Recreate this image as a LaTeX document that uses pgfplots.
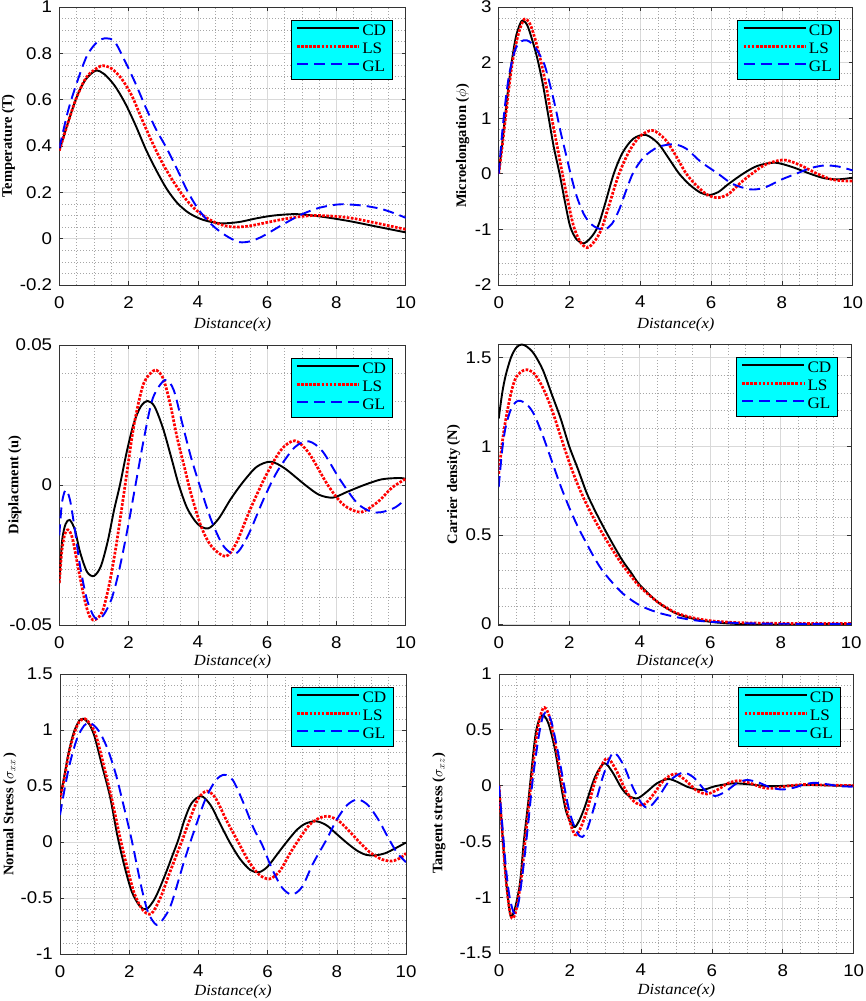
\documentclass[border=0pt]{standalone}
\usepackage{fontspec}
\setmainfont{Liberation Serif}
\newfontfamily\arialw[FakeStretch=1.1]{Liberation Sans}
\newfontfamily\timesw[FakeStretch=1.07]{Liberation Serif}
\usepackage{pgfplots}
\pgfplotsset{compat=1.18}
\definecolor{mcyan}{RGB}{0,255,255}
\newcommand{\tickfont}{\arialw\fontsize{17}{18}\selectfont}
\newcommand{\legfont}{\timesw\fontsize{16}{17}\selectfont}
\newcommand{\xlabfont}{\timesw\itshape\fontsize{15.5}{17}\selectfont}
\newcommand{\ylabfont}{\bfseries\fontsize{14.5}{16}\selectfont}
\pgfplotsset{
  panel/.style={
    scale only axis,
    xmin=0, xmax=10,
    xtick={0,2,4,6,8,10},
    xticklabels={0,2,4,6,8,10},
    scaled y ticks=false,
    minor x tick num=3,
    grid=both,
    major grid style={gray!30, line width=0.6pt},
    minor grid style={gray!70, line width=0.5pt, dash pattern=on 0.8pt off 2.2pt},
    axis line style={black!80, line width=0.7pt},
    every tick/.style={black!80, line width=0.6pt},
    major tick length=4pt,
    minor tick length=0pt,
    tick align=inside,
    every tick label/.append style={font=\tickfont},
    xticklabel style={inner sep=0pt, anchor=north, yshift=-11pt},
    yticklabel style={inner sep=0pt, anchor=east, xshift=-7pt},
    xlabel={Distance(x)},
    xlabel style={font=\xlabfont, anchor=base, inner sep=0pt},
    ylabel style={font=\ylabfont, anchor=center, inner sep=0pt},
    legend style={at={(0.963,0.953)}, anchor=north east, draw=black, fill=mcyan,
      line width=0.7pt, font=\legfont, inner xsep=4.5pt, inner ysep=2.5pt, row sep=0pt,
      nodes={inner sep=2pt, text height=10.5pt, text depth=3.5pt}, cells={anchor=west}},
    legend image code/.code={\draw[##1] (0pt,3.6pt) -- (62pt,3.6pt);},
  },
  cd/.style={black, line width=1.9pt, smooth},
  ls/.style={red, line width=2.7pt, dash pattern=on 2.6pt off 1.5pt, smooth},
  gl/.style={blue, line width=1.9pt, dash pattern=on 11pt off 6pt, smooth},
}
\begin{document}
\begin{tikzpicture}
\path[use as bounding box] (0pt,0pt) rectangle (865pt,1001pt);

% Panel 1: Temperature
\begin{axis}[panel, at={(59.3pt,716pt)}, anchor=south west, width=346.4pt, height=278pt,
  ymin=-0.2, ymax=1, ytick={-0.2,0,0.2,0.4,0.6,0.8,1}, yticklabels={-0.2,0,0.2,0.4,0.6,0.8,1},
  minor y tick num=3,
  ylabel={Temperature (T)}, ylabel style={at={(axis description cs:-0.147,0.5)}},
  xlabel style={at={(axis description cs:0.5,-0.155)}}]
\addplot[cd] coordinates {(0,0.38) (0.25,0.50) (0.5,0.61) (0.75,0.685) (1.05,0.725) (1.3,0.71) (1.6,0.66) (1.9,0.585) (2.2,0.49) (2.5,0.385) (2.8,0.295) (3.1,0.215) (3.4,0.155) (3.7,0.115) (4.0,0.09) (4.3,0.075) (4.7,0.066) (5.2,0.072) (5.7,0.088) (6.2,0.1) (6.8,0.106) (7.3,0.1) (7.8,0.09) (8.4,0.075) (9.0,0.057) (9.5,0.042) (10,0.027)};
\addplot[ls] coordinates {(0,0.38) (0.25,0.50) (0.5,0.61) (0.8,0.70) (1.2,0.745) (1.5,0.735) (1.8,0.69) (2.1,0.615) (2.4,0.51) (2.7,0.41) (3.0,0.32) (3.3,0.245) (3.6,0.18) (3.9,0.13) (4.2,0.095) (4.5,0.07) (4.8,0.055) (5.1,0.05) (5.5,0.055) (6.0,0.07) (6.5,0.085) (7.0,0.096) (7.4,0.1) (8.0,0.096) (8.5,0.087) (9.0,0.072) (9.5,0.056) (10,0.04)};
\addplot[gl] coordinates {(0,0.39) (0.25,0.55) (0.5,0.67) (0.8,0.79) (1.1,0.85) (1.35,0.865) (1.6,0.85) (1.9,0.765) (2.2,0.67) (2.5,0.565) (2.8,0.47) (3.1,0.39) (3.4,0.30) (3.7,0.205) (4.0,0.13) (4.3,0.075) (4.6,0.035) (4.9,0.005) (5.2,-0.015) (5.5,-0.012) (5.8,0.005) (6.1,0.03) (6.5,0.065) (7.0,0.105) (7.5,0.133) (8.0,0.147) (8.3,0.148) (8.8,0.142) (9.3,0.128) (9.7,0.108) (10,0.09)};
\legend{CD,LS,GL}
\end{axis}

% Panel 2: Microelongation
\begin{axis}[panel, at={(498.7pt,716pt)}, anchor=south west, width=354pt, height=278pt,
  ymin=-2, ymax=3, ytick={-2,-1,0,1,2,3}, yticklabels={-2,-1,0,1,2,3},
  minor y tick num=4,
  ylabel={Microelongation ($\phi$)}, ylabel style={at={(axis description cs:-0.102,0.5)}},
  xlabel style={at={(axis description cs:0.5,-0.155)}}]
\addplot[cd] coordinates {(0,0) (0.1,0.55) (0.2,1.15) (0.3,1.7) (0.4,2.15) (0.5,2.5) (0.65,2.75) (0.8,2.68) (0.95,2.4) (1.1,2.05) (1.25,1.6) (1.4,1.05) (1.55,0.5) (1.72,0) (1.87,-0.5) (2.02,-0.95) (2.2,-1.18) (2.4,-1.25) (2.6,-1.15) (2.8,-0.95) (3.0,-0.55) (3.25,0) (3.5,0.38) (3.8,0.63) (4.15,0.7) (4.5,0.55) (4.8,0.28) (5.1,0) (5.4,-0.2) (5.7,-0.34) (5.95,-0.38) (6.2,-0.33) (6.5,-0.18) (6.9,0) (7.3,0.14) (7.8,0.2) (8.3,0.12) (8.8,0) (9.2,-0.08) (9.6,-0.1) (10,-0.07)};
\addplot[ls] coordinates {(0,0) (0.1,0.5) (0.2,1.05) (0.3,1.6) (0.4,2.05) (0.55,2.5) (0.72,2.78) (0.88,2.7) (1.03,2.42) (1.2,2.0) (1.35,1.55) (1.5,1.0) (1.65,0.5) (1.8,0) (1.95,-0.48) (2.12,-0.95) (2.3,-1.22) (2.5,-1.33) (2.7,-1.22) (2.9,-1.0) (3.1,-0.6) (3.4,0) (3.7,0.42) (4.0,0.68) (4.35,0.78) (4.7,0.62) (5.0,0.33) (5.3,0) (5.6,-0.22) (5.9,-0.38) (6.2,-0.43) (6.5,-0.36) (6.8,-0.18) (7.15,0) (7.55,0.17) (8.05,0.25) (8.5,0.16) (9.0,0) (9.4,-0.1) (9.8,-0.13) (10,-0.13)};
\addplot[gl] coordinates {(0,0) (0.1,0.75) (0.2,1.35) (0.3,1.8) (0.45,2.2) (0.6,2.37) (0.8,2.4) (1.0,2.3) (1.15,2.15) (1.3,1.95) (1.45,1.6) (1.6,1.2) (1.75,0.75) (1.9,0.35) (2.05,-0.05) (2.2,-0.4) (2.4,-0.72) (2.6,-0.9) (2.8,-0.98) (3.0,-1.0) (3.2,-0.9) (3.4,-0.65) (3.6,-0.3) (3.8,0.02) (4.1,0.3) (4.5,0.48) (4.95,0.53) (5.3,0.45) (5.7,0.22) (6.2,0) (6.6,-0.18) (7.1,-0.28) (7.5,-0.25) (8.0,-0.1) (8.4,0) (8.8,0.1) (9.2,0.15) (9.6,0.13) (10,0.06)};
\legend{CD,LS,GL}
\end{axis}

% Panel 3: Displacement
\begin{axis}[panel, at={(59.3pt,376pt)}, anchor=south west, width=346.4pt, height=280pt,
  ymin=-0.05, ymax=0.05, ytick={-0.05,0,0.05}, yticklabels={-0.05,0,0.05},
  minor y tick num=4,
  ylabel={Displacment (u)}, ylabel style={at={(axis description cs:-0.128,0.5)}},
  xlabel style={at={(axis description cs:0.5,-0.145)}}]
\addplot[cd] coordinates {(0,-0.035) (0.08,-0.02) (0.18,-0.014) (0.3,-0.0125) (0.45,-0.016) (0.6,-0.024) (0.8,-0.031) (1.0,-0.0325) (1.2,-0.029) (1.4,-0.02) (1.58,-0.009) (1.75,0) (1.95,0.012) (2.15,0.022) (2.35,0.028) (2.55,0.030) (2.75,0.028) (3.0,0.020) (3.25,0.009) (3.45,0) (3.7,-0.0085) (4.0,-0.014) (4.3,-0.0155) (4.6,-0.012) (4.95,-0.005) (5.3,0.001) (5.7,0.0065) (6.1,0.0083) (6.5,0.006) (7.1,0) (7.5,-0.0035) (7.9,-0.0045) (8.3,-0.0025) (8.8,0) (9.3,0.002) (9.8,0.0025) (10,0.0022)};
\addplot[ls] coordinates {(0,-0.035) (0.07,-0.024) (0.15,-0.018) (0.25,-0.016) (0.38,-0.019) (0.55,-0.030) (0.75,-0.042) (0.9,-0.0475) (1.05,-0.048) (1.25,-0.045) (1.45,-0.035) (1.65,-0.021) (1.9,0) (2.15,0.021) (2.4,0.035) (2.6,0.0395) (2.8,0.041) (3.0,0.038) (3.2,0.029) (3.4,0.017) (3.6,0.007) (3.8,-0.003) (4.1,-0.015) (4.4,-0.022) (4.8,-0.0255) (5.1,-0.021) (5.5,-0.009) (5.95,0.003) (6.4,0.0125) (6.8,0.0158) (7.2,0.0115) (7.75,0) (8.2,-0.007) (8.7,-0.0097) (9.2,-0.006) (9.6,-0.001) (10,0.0022)};
\addplot[gl] coordinates {(0,-0.018) (0.07,-0.007) (0.15,-0.0025) (0.22,-0.002) (0.32,-0.006) (0.45,-0.016) (0.6,-0.029) (0.8,-0.041) (1.0,-0.047) (1.15,-0.048) (1.3,-0.046) (1.5,-0.041) (1.7,-0.032) (1.95,-0.017) (2.2,0) (2.45,0.017) (2.7,0.031) (3.05,0.0375) (3.3,0.034) (3.55,0.022) (3.8,0.01) (4.1,-0.002) (4.4,-0.013) (4.75,-0.022) (5.1,-0.0245) (5.45,-0.018) (5.9,-0.005) (6.3,0.005) (6.8,0.0135) (7.2,0.0156) (7.6,0.012) (8.1,0.002) (8.6,-0.0065) (9.0,-0.0095) (9.3,-0.0097) (9.7,-0.008) (10,-0.005)};
\legend{CD,LS,GL}
\end{axis}

% Panel 4: Carrier density
\begin{axis}[panel, at={(498.7pt,376pt)}, anchor=south west, width=352.5pt, height=281pt,
  ymin=-0.006, ymax=1.575, ytick={0,0.5,1,1.5}, yticklabels={0,0.5,1,1.5},
  minor ytick={0.1,0.2,0.3,0.4,0.6,0.7,0.8,0.9,1.1,1.2,1.3,1.4},
  ylabel={Carrier density (N)}, ylabel style={at={(axis description cs:-0.128,0.5)}},
  xlabel style={at={(axis description cs:0.5,-0.145)}}]
\addplot[cd] coordinates {(0,1.155) (0.1,1.3) (0.2,1.4) (0.35,1.5) (0.5,1.555) (0.65,1.572) (0.8,1.56) (1.0,1.52) (1.25,1.43) (1.5,1.295) (1.75,1.16) (2.0,1.0) (2.25,0.87) (2.5,0.735) (2.75,0.63) (3.0,0.535) (3.25,0.445) (3.5,0.36) (3.75,0.29) (4.0,0.22) (4.5,0.125) (5.0,0.062) (5.5,0.03) (6.0,0.012) (6.5,0.003) (7.0,-0.002) (7.5,-0.004) (8.0,-0.004) (8.5,-0.003) (9.0,-0.002) (10,0)};
\addplot[ls] coordinates {(0,0.845) (0.1,1.02) (0.2,1.15) (0.35,1.3) (0.5,1.39) (0.75,1.43) (1.0,1.41) (1.25,1.33) (1.5,1.21) (1.75,1.06) (2.0,0.91) (2.25,0.78) (2.5,0.67) (2.75,0.575) (3.0,0.49) (3.25,0.41) (3.5,0.335) (3.75,0.27) (4.0,0.21) (4.5,0.125) (5.0,0.065) (5.5,0.035) (6.0,0.018) (6.5,0.01) (7.0,0.006) (8,0.003) (9,0.002) (10,0.002)};
\addplot[gl] coordinates {(0,0.77) (0.1,0.98) (0.2,1.11) (0.35,1.21) (0.5,1.25) (0.62,1.255) (0.8,1.235) (1.0,1.18) (1.25,1.06) (1.5,0.92) (1.75,0.78) (2.0,0.655) (2.25,0.545) (2.5,0.45) (2.75,0.36) (3.0,0.285) (3.5,0.175) (4.0,0.105) (4.5,0.065) (5.0,0.04) (5.5,0.022) (6.0,0.012) (7.0,0.004) (8,0.001) (10,0)};
\legend{CD,LS,GL}
\end{axis}

% Panel 5: Normal stress
\begin{axis}[panel, at={(60pt,47pt)}, anchor=south west, width=346pt, height=280pt,
  ymin=-1, ymax=1.5, ytick={-1,-0.5,0,0.5,1,1.5}, yticklabels={-1,-0.5,0,0.5,1,1.5},
  minor y tick num=4,
  ylabel={Normal Stress ($\sigma_{xx}$\,)}, ylabel style={at={(axis description cs:-0.145,0.5)}},
  xlabel style={at={(axis description cs:0.5,-0.15)}}]
\addplot[cd] coordinates {(0,0.39) (0.12,0.58) (0.25,0.8) (0.4,0.98) (0.55,1.08) (0.68,1.1) (0.85,1.05) (1.0,0.94) (1.2,0.70) (1.45,0.40) (1.65,0.07) (1.85,-0.2) (2.07,-0.44) (2.3,-0.57) (2.5,-0.6) (2.75,-0.5) (3.03,-0.3) (3.25,-0.12) (3.42,0.02) (3.6,0.2) (3.8,0.345) (4.08,0.41) (4.35,0.33) (4.6,0.18) (4.9,0.0) (5.2,-0.15) (5.5,-0.25) (5.75,-0.27) (6.0,-0.22) (6.3,-0.1) (6.55,0) (6.85,0.11) (7.1,0.165) (7.4,0.185) (7.7,0.15) (8.0,0.07) (8.3,-0.01) (8.6,-0.08) (8.85,-0.115) (9.1,-0.12) (9.4,-0.1) (9.7,-0.055) (10,-0.005)};
\addplot[ls] coordinates {(0,0.38) (0.12,0.56) (0.25,0.78) (0.4,0.96) (0.55,1.07) (0.72,1.1) (0.9,1.04) (1.05,0.94) (1.25,0.70) (1.5,0.38) (1.72,0.06) (1.92,-0.2) (2.15,-0.46) (2.4,-0.61) (2.64,-0.64) (2.9,-0.5) (3.2,-0.25) (3.55,0.03) (3.75,0.2) (4.0,0.39) (4.25,0.455) (4.5,0.39) (4.8,0.2) (5.15,0) (5.45,-0.17) (5.75,-0.29) (6.05,-0.33) (6.35,-0.26) (6.65,-0.1) (6.9,0.02) (7.2,0.15) (7.5,0.215) (7.75,0.23) (8.05,0.19) (8.35,0.1) (8.65,0) (8.95,-0.09) (9.3,-0.155) (9.6,-0.17) (9.85,-0.14) (10,-0.1)};
\addplot[gl] coordinates {(0,0.24) (0.15,0.5) (0.3,0.72) (0.5,0.93) (0.7,1.04) (0.86,1.065) (1.05,1.02) (1.2,0.95) (1.39,0.82) (1.6,0.62) (1.78,0.4) (2.07,0.02) (2.35,-0.4) (2.55,-0.63) (2.79,-0.74) (3.0,-0.68) (3.22,-0.55) (3.6,-0.16) (3.9,0.12) (4.2,0.38) (4.5,0.55) (4.75,0.6) (5.0,0.55) (5.3,0.35) (5.6,0.12) (5.85,-0.03) (6.1,-0.22) (6.4,-0.4) (6.7,-0.47) (7.0,-0.4) (7.3,-0.2) (7.7,0.02) (8.0,0.2) (8.3,0.33) (8.6,0.38) (8.9,0.33) (9.2,0.2) (9.5,0.03) (9.75,-0.1) (10,-0.18)};
\legend{CD,LS,GL}
\end{axis}

% Panel 6: Tangent stress
\begin{axis}[panel, at={(499pt,48pt)}, anchor=south west, width=354.7pt, height=279pt,
  ymin=-1.5, ymax=1, ytick={-1.5,-1,-0.5,0,0.5,1}, yticklabels={-1.5,-1,-0.5,0,0.5,1},
  minor y tick num=4,
  ylabel={Tangent stress ($\sigma_{xz}$)}, ylabel style={at={(axis description cs:-0.169,0.5)}},
  xlabel style={at={(axis description cs:0.5,-0.15)}}]
\addplot[cd] coordinates {(0,0) (0.1,-0.45) (0.2,-0.85) (0.28,-1.08) (0.34,-1.175) (0.45,-1.1) (0.59,-0.875) (0.7,-0.5) (0.83,-0.13) (1.01,0.41) (1.12,0.58) (1.25,0.63) (1.4,0.55) (1.58,0.32) (1.77,-0.04) (1.91,-0.25) (2.11,-0.37) (2.25,-0.32) (2.42,-0.19) (2.71,0.08) (2.97,0.2) (3.2,0.12) (3.45,-0.02) (3.65,-0.09) (3.9,-0.114) (4.15,-0.06) (4.45,0.02) (4.77,0.059) (5.05,0.03) (5.3,-0.01) (5.71,-0.04) (6.1,-0.005) (6.6,0.02) (7.1,0.01) (7.6,-0.005) (8.2,0) (8.8,0.005) (9.5,0) (10,0)};
\addplot[ls] coordinates {(0,0) (0.1,-0.45) (0.2,-0.85) (0.3,-1.12) (0.38,-1.19) (0.48,-1.12) (0.62,-0.85) (0.75,-0.45) (0.88,-0.05) (1.05,0.42) (1.17,0.63) (1.28,0.70) (1.42,0.62) (1.6,0.35) (1.8,-0.02) (1.95,-0.27) (2.14,-0.44) (2.3,-0.38) (2.5,-0.2) (2.75,0.08) (3.04,0.245) (3.3,0.14) (3.55,-0.03) (3.8,-0.14) (4.07,-0.174) (4.35,-0.08) (4.65,0.05) (4.96,0.104) (5.25,0.05) (5.55,-0.04) (5.86,-0.075) (6.2,-0.03) (6.45,0.02) (6.75,0.044) (7.1,0.02) (7.4,-0.015) (7.7,-0.025) (8.1,-0.005) (8.6,0.01) (9.2,0.005) (10,0)};
\addplot[gl] coordinates {(0,0) (0.1,-0.38) (0.2,-0.75) (0.3,-1.0) (0.43,-1.145) (0.55,-1.05) (0.68,-0.75) (0.82,-0.35) (0.95,0.05) (1.1,0.4) (1.22,0.6) (1.34,0.66) (1.48,0.57) (1.65,0.32) (1.85,-0.02) (2.0,-0.25) (2.2,-0.42) (2.35,-0.46) (2.5,-0.38) (2.75,-0.12) (2.95,0.1) (3.22,0.295) (3.5,0.19) (3.75,0.0) (4.0,-0.15) (4.21,-0.2) (4.5,-0.1) (4.8,0.04) (5.18,0.116) (5.5,0.07) (5.8,-0.04) (6.09,-0.093) (6.4,-0.05) (6.7,0.02) (6.98,0.05) (7.3,0.03) (7.6,-0.01) (7.95,-0.035) (8.3,-0.02) (8.6,0.01) (8.9,0.025) (9.3,0.01) (9.6,-0.005) (10,-0.01)};
\legend{CD,LS,GL}
\end{axis}
\end{tikzpicture}
\end{document}
